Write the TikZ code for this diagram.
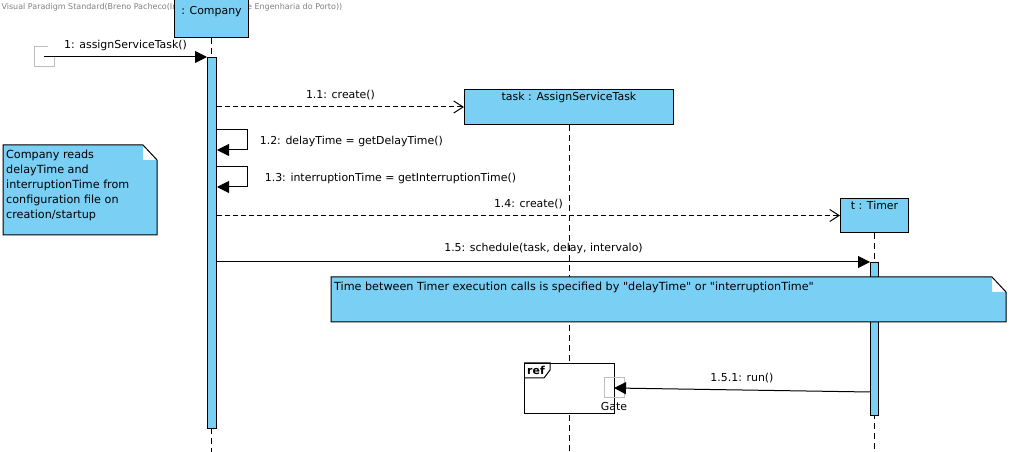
\documentclass[tikz,border=0pt]{standalone}
\usepackage{fontspec}
\setmainfont{DejaVu Sans}
\usetikzlibrary{arrows.meta,positioning,calc}
\definecolor{vpblue}{RGB}{122,207,245}
\tikzset{
  obj/.style={draw, fill=vpblue, anchor=north west, inner sep=0pt},
  objname/.style={anchor=north, inner sep=2pt, font=\fontsize{8.2}{10}\selectfont},
  act/.style={draw, fill=vpblue, anchor=north west, inner sep=0pt},
  lifeline/.style={dash pattern=on 4.5pt off 3pt},
  call/.style={-{Triangle[length=9pt,width=9pt]}},
  create/.style={dash pattern=on 3.5pt off 2.5pt, -{Straight Barb[length=7pt,width=9pt]}},
  msg/.style={font=\fontsize{8.2}{10}\selectfont, inner sep=1pt, text height=6.5pt, text depth=1.8pt},
  notebg/.style={anchor=north west, inner sep=0pt},
  notetext/.style={anchor=north west, align=left, inner xsep=2pt, inner ysep=3.2pt, font=\fontsize{8.4}{11.25}\selectfont},
  gate/.style={draw=gray!50, minimum size=15pt, inner sep=0pt},
  frame/.style={draw, fill=white, anchor=north west, inner sep=0pt},
}

\begin{document}
\begin{tikzpicture}[x=0.75pt, y=-0.75pt, line width=0.75pt]
  \useasboundingbox (0,0) rectangle (1011,452);
  \coordinate (bottom) at (0,452);

  % Header
  \node[anchor=west, inner sep=0pt, text=gray, font=\fontsize{6}{7}\selectfont] (header) at (1,7) {Visual Paradigm Standard(Breno Pacheco(Instituto Superior de Engenharia do Porto))};

  % Objects
  \node[obj, minimum width=55.5pt, minimum height=30pt, label={[objname, yshift=-4.5pt]north:{: Company}}] (company) at (174,-3) {};
  \node[obj, minimum width=156.75pt, minimum height=26.25pt, label={[objname]north:{task : AssignServiceTask}}] (task) at (464,89) {};
  \node[obj, minimum width=51pt, minimum height=25.5pt, label={[objname]north:{t : Timer}}] (timer) at (840,198) {};

  % Lifelines
  \draw[lifeline] (company.south) -- (company.south |- bottom);
  \draw[lifeline] (task.south) -- (task.south |- bottom);
  \draw[lifeline] (timer.south) -- (timer.south |- bottom);

  % Activations
  \node[act, minimum width=6.75pt, minimum height=278.25pt] (actC) at (207,57) {};
  \node[act, minimum width=6pt, minimum height=114.75pt] (actT) at (870,262) {};

  % Notes
  \node[notebg, minimum width=114.75pt, minimum height=66.75pt] (note1) at (3,145) {};
  \fill[vpblue] (note1.north west) -- ($(note1.north east)+(-14,0)$) -- ($(note1.north east)+(-14,15)$) -- ($(note1.north east)+(0,15)$) -- (note1.south east) -- (note1.south west) -- cycle;
  \draw (note1.north west) -- ($(note1.north east)+(-14,0)$) -- ($(note1.north east)+(0,15)$) -- (note1.south east) -- (note1.south west) -- cycle;
  \node[notetext] (text1) at (note1.north west) {Company reads\\delayTime and\\interruptionTime from\\configuration file on\\creation/startup};

  \node[notebg, minimum width=505.5pt, minimum height=33pt] (note2) at (331,277) {};
  \fill[vpblue] (note2.north west) -- ($(note2.north east)+(-14,0)$) -- ($(note2.north east)+(-14,15)$) -- ($(note2.north east)+(0,15)$) -- (note2.south east) -- (note2.south west) -- cycle;
  \draw (note2.north west) -- ($(note2.north east)+(-14,0)$) -- ($(note2.north east)+(0,15)$) -- (note2.south east) -- (note2.south west) -- cycle;
  \node[notetext] (text2) at (note2.north west) {Time between Timer execution calls is specified by \textquotedbl delayTime\textquotedbl{} or \textquotedbl interruptionTime\textquotedbl};

  % Ref frame
  \node[frame, minimum width=67.5pt, minimum height=37.5pt] (ref) at (524,363) {};
  \draw (ref.north west) -- ++(26,0) -- ++(0,7) -- ++(-6,8) -- ++(-20,0);
  \node[font=\bfseries\fontsize{8.2}{10}\selectfont, inner sep=0pt] (reflabel) at (536,370) {ref};
  \node[gate] (gate) at (614,388) {};
  \node[msg, below=1pt of gate] (gatelabel) {Gate};

  % Messages
  \coordinate (found) at (44,57);
  \draw[gray!50] (54,57) -- (54,67) -- (34,67) -- (34,47) -- (48,47);
  \draw[call] (found) -- (actC.north west) node[msg, above=3pt, midway] {1: assignServiceTask()};
  \draw[create] (actC.east |- task.west) -- (task.west) node[msg, above=3pt, midway] {1.1: create()};
  \draw[call] ($(actC.north east)+(0,73)$) -- ++(30,0) -- ++(0,20) -- ($(actC.north east)+(0,93)$);
  \node[msg, anchor=west] (l12) at (258,141) {1.2: delayTime = getDelayTime()};
  \draw[call] ($(actC.north east)+(0,110)$) -- ++(30,0) -- ++(0,20) -- ($(actC.north east)+(0,130)$);
  \node[msg, anchor=west] (l13) at (263,178) {1.3: interruptionTime = getInterruptionTime()};
  \draw[create] (actC.east |- timer.west) -- (timer.west) node[msg, above=3pt, midway] {1.4: create()};
  \draw[call] (actC.east |- actT.north west) -- (actT.north west) node[msg, above=5pt, midway] {1.5: schedule(task, delay, intervalo)};
  \draw[call] ($(actT.north west)+(0,130)$) -- (gate.center) node[msg, above=3pt, midway] {1.5.1: run()};
\end{tikzpicture}
\end{document}
